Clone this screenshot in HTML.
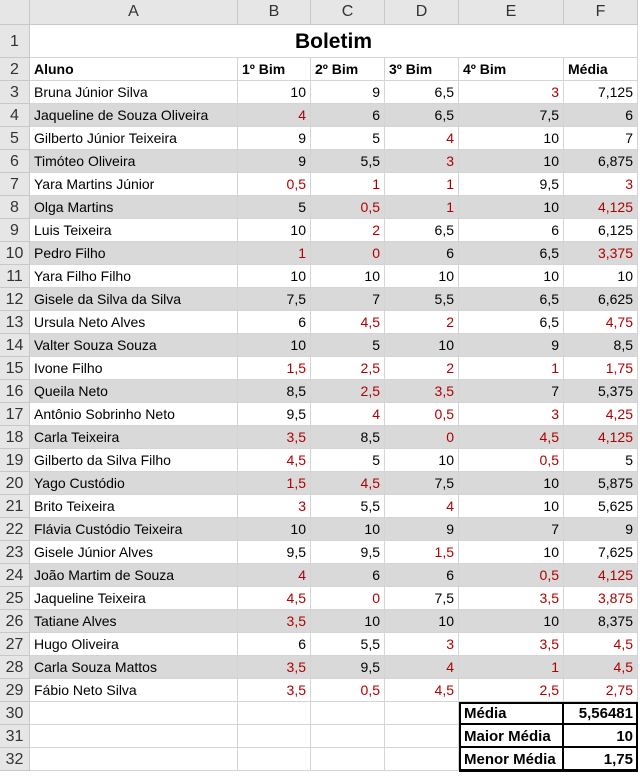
<!DOCTYPE html>
<html><head><meta charset="utf-8"><style>
body{margin:0;width:640px;height:780px;overflow:hidden;background:#fff;font-family:"Liberation Sans",sans-serif;font-size:14px;position:relative}
.c{position:absolute;box-sizing:border-box;white-space:nowrap;overflow:hidden;line-height:22px;padding:0 4px;border-right:1px solid #d4d4d4;border-bottom:1px solid #d4d4d4}
.h{background:#e6e6e6;color:#333;text-align:center;border-right:1px solid #c8c8c8;border-bottom:1px solid #c8c8c8;font-size:16px}
.r{text-align:right}.red{color:#b00000}.b{font-weight:bold}.g{background:#d9d9d9}
</style></head><body>
<div id="grid"></div>
<script>
const names=["Bruna Júnior Silva","Jaqueline de Souza Oliveira","Gilberto Júnior Teixeira","Timóteo Oliveira","Yara Martins Júnior","Olga Martins","Luis Teixeira","Pedro Filho","Yara Filho Filho","Gisele da Silva da Silva","Ursula Neto Alves","Valter Souza Souza","Ivone Filho","Queila Neto","Antônio Sobrinho Neto","Carla Teixeira","Gilberto da Silva Filho","Yago Custódio","Brito Teixeira","Flávia Custódio Teixeira","Gisele Júnior Alves","João Martim de Souza","Jaqueline Teixeira","Tatiane Alves","Hugo Oliveira","Carla Souza Mattos","Fábio Neto Silva"];
const bim1=[10,4,9,9,0.5,5,10,1,10,7.5,6,10,1.5,8.5,9.5,3.5,4.5,1.5,3,10,9.5,4,4.5,3.5,6,3.5,3.5];
const bim2=[9,6,5,5.5,1,0.5,2,0,10,7,4.5,5,2.5,2.5,4,8.5,5,4.5,5.5,10,9.5,6,0,10,5.5,9.5,0.5];
const bim3=[6.5,6.5,4,3,1,1,6.5,6,10,5.5,2,10,2,3.5,0.5,0,10,7.5,4,9,1.5,6,7.5,10,3,4,4.5];
const bim4=[3,7.5,10,10,9.5,10,6,6.5,10,6.5,6.5,9,1,7,3,4.5,0.5,10,10,7,10,0.5,3.5,10,3.5,1,2.5];
const medias=[7.125,6,7,6.875,3,4.125,6.125,3.375,10,6.625,4.75,8.5,1.75,5.375,4.25,4.125,5,5.875,5.625,9,7.625,4.125,3.875,8.375,4.5,4.5,2.75];
const colX=[0,30,238,311,385,459,564,638];
const rowY=[0,25,58,81];
for(let i=4;i<=33;i++)rowY.push(rowY[i-1]+23);
const G=document.getElementById('grid');
function cell(x0,x1,y0,y1,txt,cls){const d=document.createElement('div');d.className='c '+(cls||'');d.style.left=x0+'px';d.style.top=y0+'px';d.style.width=(x1-x0)+'px';d.style.height=(y1-y0)+'px';d.textContent=txt;G.appendChild(d);return d;}
const fmt=v=>String(v).replace('.',',');
let d=cell(0,30,0,25,'','h');


"ABCDEF".split('').forEach((L,i)=>{const e=cell(colX[i+1],colX[i+2],0,25,L,'h');e.style.lineHeight='24px';

});
for(let r=1;r<=32;r++){const e=cell(0,30,rowY[r],rowY[r+1],r,'h');e.style.lineHeight=(rowY[r+1]-rowY[r])+'px';

}
const t=cell(30,638,25,58,'Boletim','b');t.style.textAlign='center';t.style.fontSize='21px';t.style.lineHeight='34px';


["Aluno","1º Bim","2º Bim","3º Bim","4º Bim","Média"].forEach((h,i)=>{const e=cell(colX[i+1],colX[i+2],58,81,h,'b');

});
names.forEach((n,k)=>{const r=k+3,y0=rowY[r],y1=rowY[r+1],gr=r%2==0?' g':'';
const e=cell(colX[1],colX[2],y0,y1,n,gr);


[bim1,bim2,bim3,bim4,medias].forEach((arr,j)=>{const v=arr[k];const c=cell(colX[j+2],colX[j+3],y0,y1,fmt(v),'r'+gr+(v<5?' red':''));

});});
for(let r=30;r<=32;r++){for(let j=1;j<=4;j++){const c=cell(colX[j],colX[j+1],rowY[r],rowY[r+1],'');

}}
const sumL=["Média","Maior Média","Menor Média"],sumV=["5,56481","10","1,75"];
sumL.forEach((l,i)=>{const y0=rowY[30+i],y1=rowY[31+i];
const a=cell(459,564,y0,y1,l,'b');a.style.borderRight='2px solid #000';a.style.borderBottom='2px solid #000';a.style.paddingLeft='5px';a.style.fontSize='15px';a.style.lineHeight='24px';


const b=cell(564,638,y0,y1,sumV[i],'b r');b.style.borderBottom='2px solid #000';b.style.fontSize='15px';b.style.lineHeight='24px';

});
const box=document.createElement('div');box.style.cssText='position:absolute;left:459px;top:702px;width:179px;height:70px;border:2px solid #000;box-sizing:border-box';


G.appendChild(box);
</script>
</body></html>
